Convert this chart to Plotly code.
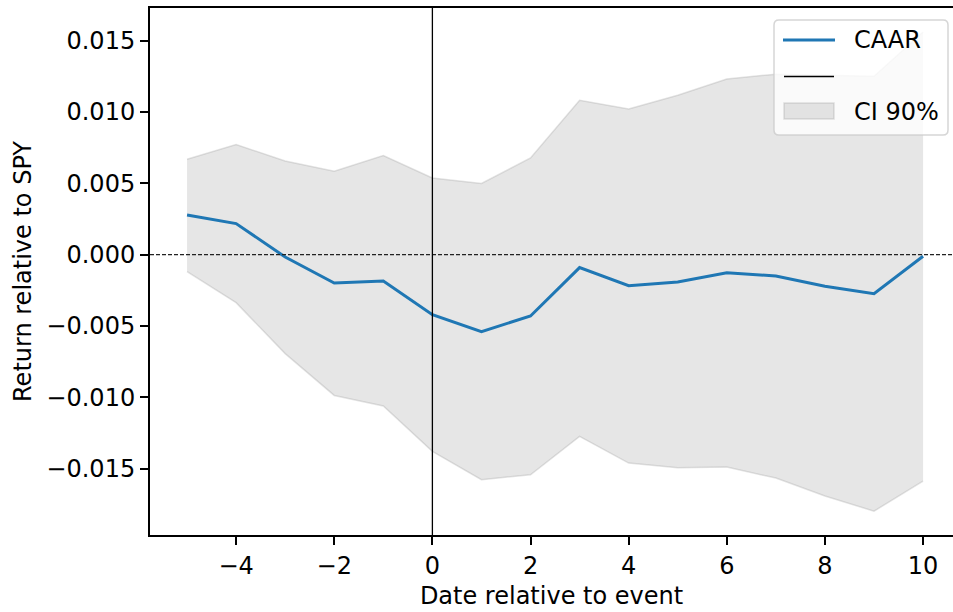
import plotly.graph_objects as go

# ---- data ----
days = [-5, -4, -3, -2, -1, 0, 1, 2, 3, 4, 5, 6, 7, 8, 9, 10]
caar = [0.00278, 0.00217, -0.00017, -0.00199, -0.00185, -0.00421, -0.00540, -0.00430,
        -0.00091, -0.00218, -0.00192, -0.00128, -0.00150, -0.00222, -0.00274, -0.00012]
ci_upper = [0.00668, 0.00771, 0.00656, 0.00584, 0.00694, 0.00537, 0.00498, 0.00677,
            0.01082, 0.01021, 0.01117, 0.01231, 0.01264, 0.01257, 0.01250, 0.01560]
ci_lower = [-0.00119, -0.00337, -0.00694, -0.00987, -0.01061, -0.01379, -0.01578, -0.01543,
            -0.01274, -0.01461, -0.01494, -0.01489, -0.01566, -0.01692, -0.01798, -0.01587]

x_tickvals = [-4, -2, 0, 2, 4, 6, 8, 10]
x_ticktext = ["\u22124", "\u22122", "0", "2", "4", "6", "8", "10"]
y_tickvals = [-0.015, -0.010, -0.005, 0.0, 0.005, 0.010, 0.015]
y_ticktext = ["\u22120.015", "\u22120.010", "\u22120.005", "0.000", "0.005", "0.010", "0.015"]

legend_labels = ["CAAR", "", "CI 90%"]

# ---- layout geometry (pixels) ----
FW, FH = 953, 612
L, R, T, B = 150, 953, 8, 535
W, H = R - L, B - T
FONT = "DejaVu Sans, sans-serif"
FS = 24
BLUE = "#1f77b4"
BAND_FILL = "rgba(128,128,128,0.2)"
BAND_EDGE = "rgba(128,128,128,0.22)"


def px(xp):
    return (xp - L) / W


def py(yp):
    return (B - yp) / H


fig = go.Figure()

# CI band
fig.add_trace(go.Scatter(x=days, y=ci_upper, mode="lines",
                         line=dict(color=BAND_EDGE, width=1.5),
                         showlegend=False, hoverinfo="skip"))
fig.add_trace(go.Scatter(x=days, y=ci_lower, mode="lines",
                         line=dict(color=BAND_EDGE, width=1.5),
                         fill="tonexty", fillcolor=BAND_FILL,
                         showlegend=False, hoverinfo="skip"))

# reference lines
fig.add_hline(y=0, line=dict(color="#222222", width=1.1, dash="4px,2px"), layer="above")
fig.add_vline(x=0, line=dict(color="black", width=1.3), layer="above")

# CAAR line
fig.add_trace(go.Scatter(x=days, y=caar, mode="lines",
                         line=dict(color=BLUE, width=3),
                         name=legend_labels[0], showlegend=False))

# ---- custom legend (matplotlib style) ----
bx0, by0, bx1, by1, r = 774, 20, 948, 135, 5


def pt(xp, yp):
    return f"{px(xp)},{py(yp)}"


path = (f"M {pt(bx0 + r, by0)} L {pt(bx1 - r, by0)} Q {pt(bx1, by0)} {pt(bx1, by0 + r)} "
        f"L {pt(bx1, by1 - r)} Q {pt(bx1, by1)} {pt(bx1 - r, by1)} "
        f"L {pt(bx0 + r, by1)} Q {pt(bx0, by1)} {pt(bx0, by1 - r)} "
        f"L {pt(bx0, by0 + r)} Q {pt(bx0, by0)} {pt(bx0 + r, by0)} Z")
shapes = [
    dict(type="path", xref="paper", yref="paper", path=path,
         fillcolor="rgba(255,255,255,0.8)", line=dict(color="rgba(204,204,204,0.8)", width=1.5),
         layer="above"),
    dict(type="line", xref="paper", yref="paper", x0=px(783), x1=px(835), y0=py(40), y1=py(40),
         line=dict(color=BLUE, width=3), layer="above"),
    dict(type="line", xref="paper", yref="paper", x0=px(784), x1=px(834), y0=py(76.5), y1=py(76.5),
         line=dict(color="black", width=1.3), layer="above"),
    dict(type="rect", xref="paper", yref="paper", x0=px(784), x1=px(834), y0=py(119), y1=py(103),
         fillcolor=BAND_FILL, line=dict(color=BAND_EDGE, width=1.5), layer="above"),
]
for s in shapes:
    fig.add_shape(**s)

fig.add_annotation(xref="paper", yref="paper", x=px(852), y=py(40.5), text=legend_labels[0],
                   showarrow=False, xanchor="left", yanchor="middle",
                   font=dict(family=FONT, size=FS, color="black"))
fig.add_annotation(xref="paper", yref="paper", x=px(852), y=py(111.5), text=legend_labels[2],
                   showarrow=False, xanchor="left", yanchor="middle",
                   font=dict(family=FONT, size=FS, color="black"))

axis_common = dict(showgrid=False, zeroline=False, showline=True, linecolor="black",
                   linewidth=2, ticks="outside", ticklen=8, tickwidth=2, tickcolor="black",
                   tickfont=dict(family=FONT, size=FS, color="black"))

fig.update_xaxes(range=[-5.755, 10.61], tickvals=x_tickvals, ticktext=x_ticktext,
                 mirror=True,
                 title=dict(text="Date relative to event", standoff=8,
                            font=dict(family=FONT, size=FS, color="black")),
                 **axis_common)
fig.update_yaxes(range=[-0.01965, 0.01728], tickvals=y_tickvals, ticktext=y_ticktext,
                 mirror=False,
                 title=dict(text="Return relative to SPY", standoff=8,
                            font=dict(family=FONT, size=FS, color="black")),
                 **axis_common)

fig.update_layout(width=FW, height=FH, autosize=False,
                  margin=dict(l=L, r=FW - R, t=T, b=FH - B, pad=0),
                  paper_bgcolor="white", plot_bgcolor="white",
                  showlegend=False,
                  font=dict(family=FONT, size=FS, color="black"))

fig.write_html("out.html", config={"displayModeBar": False},
               post_script="document.body.style.margin='0';document.body.style.overflow='hidden';")
